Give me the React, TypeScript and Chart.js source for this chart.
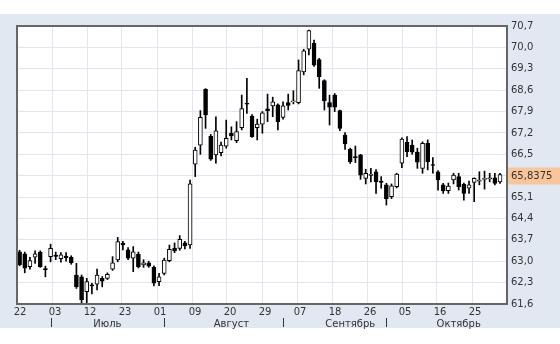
import React, { useEffect, useRef } from "react";
import { Chart, registerables } from "chart.js";

Chart.register(...registerables);

// Trading days (2018)
const juneDays = [22, 25, 26, 27, 28, 29];
const julyDays = [2, 3, 4, 5, 6, 9, 10, 11, 12, 13, 16, 17, 18, 19, 20, 23, 24, 25, 26, 27, 30, 31];
const augustDays = [1, 2, 3, 6, 7, 8, 9, 10, 13, 14, 15, 16, 17, 20, 21, 22, 23, 24, 27, 28, 29, 30, 31];
const septemberDays = [3, 4, 5, 6, 7, 10, 11, 12, 13, 14, 17, 18, 19, 20, 21, 24, 25, 26, 27, 28];
const octoberDays = [1, 2, 3, 4, 5, 8, 9, 10, 11, 12, 15, 16, 17, 18, 19, 22, 23, 24, 25, 26, 29, 30, 31];

const opens = [
  63.31, 63.24, 62.82, 63.13, 63.3, 62.75, 63.15, 63.2, 63.08, 63.17,
  63.13, 62.55, 62.49, 62.0, 62.22, 62.25, 62.44, 62.44, 62.74, 63.04,
  63.59, 63.37, 63.1, 63.23, 62.88, 62.95, 62.8, 62.33, 62.6, 63.02,
  63.43, 63.42, 63.6, 63.53, 66.18, 66.8, 68.63, 67.1, 66.48, 66.55,
  66.77, 67.19, 66.95, 67.37, 68.17, 67.75, 67.37, 67.49, 67.99, 68.08,
  68.12, 67.71, 68.19, 68.22, 68.19, 69.2, 69.94, 70.13, 69.6, 68.91,
  68.19, 68.44, 67.93, 67.13, 66.66, 66.42, 66.48, 65.71, 65.82, 65.93,
  65.62, 65.5, 65.11, 65.44, 66.21, 66.89, 66.8, 66.57, 66.04, 66.86,
  66.16, 65.93, 65.5, 65.31, 65.66, 65.77, 65.52, 65.39, 65.58, 65.63,
  65.69, 65.71, 65.73, 65.6,
];
const highs = [
  63.36, 63.3, 63.13, 63.34, 63.34, 62.84, 63.56, 63.3, 63.28, 63.28,
  63.18, 62.93, 62.55, 62.44, 62.28, 62.74, 62.5, 62.62, 63.15, 63.78,
  63.65, 63.45, 63.48, 63.3, 63.05, 63.0, 62.85, 62.6, 63.1, 63.53,
  63.6, 63.84, 63.65, 65.66, 66.73, 67.93, 68.65, 67.15, 67.73, 66.9,
  67.62, 67.4, 67.57, 68.44, 68.99, 67.8, 67.65, 67.9, 68.47, 68.37,
  68.15, 68.22, 68.47, 68.58, 69.59, 69.94, 70.57, 70.24, 69.64, 68.94,
  68.44, 68.49, 67.95, 67.21, 66.7, 66.77, 66.5, 66.01, 66.04, 66.0,
  65.77, 65.55, 65.53, 65.88, 67.04, 67.08, 66.97, 66.7, 66.91, 66.97,
  66.39, 65.97, 65.55, 65.56, 65.88, 65.88, 65.56, 65.62, 65.73, 65.93,
  65.95, 65.88, 65.88, 65.88,
];
const lows = [
  62.85, 62.62, 62.74, 62.93, 62.8, 62.49, 62.98, 63.05, 62.97, 63.0,
  62.9, 62.11, 61.64, 61.64, 61.93, 62.06, 62.16, 62.4, 62.7, 62.98,
  63.37, 63.05, 62.66, 62.78, 62.8, 62.8, 62.19, 62.2, 62.55, 62.98,
  63.28, 63.36, 63.4, 63.42, 65.77, 66.5, 67.35, 66.3, 66.21, 66.45,
  66.7, 66.97, 66.88, 67.3, 67.84, 67.05, 66.97, 67.19, 67.57, 67.73,
  67.3, 67.65, 67.95, 68.15, 68.15, 69.1, 69.75, 69.38, 68.66, 67.95,
  67.46, 67.9, 67.27, 66.66, 66.2, 66.23, 65.68, 65.53, 65.6, 65.22,
  65.39, 64.84, 65.05, 65.4, 66.06, 66.42, 66.5, 66.04, 65.88, 65.99,
  65.88, 65.33, 65.22, 65.22, 65.53, 65.33, 65.0, 65.22, 64.95, 65.5,
  65.36, 65.6, 65.5, 65.55,
];
const closes = [
  62.88, 62.77, 63.02, 63.24, 62.82, 62.74, 63.42, 63.16, 63.21, 63.12,
  62.95, 62.17, 61.73, 62.33, 62.2, 62.55, 62.35, 62.57, 62.95, 63.64,
  63.53, 63.1, 63.31, 62.82, 62.95, 62.84, 62.28, 62.49, 63.04, 63.39,
  63.34, 63.72, 63.5, 65.53, 66.64, 67.71, 67.79, 66.34, 67.27, 66.8,
  67.02, 67.1, 67.24, 68.0, 68.14, 67.08, 67.49, 67.86, 67.93, 68.22,
  67.57, 68.09, 68.1, 68.25, 69.24, 69.89, 70.55, 69.42, 69.04, 68.25,
  68.04, 68.04, 67.35, 66.84, 66.26, 66.4, 65.82, 65.88, 65.84, 65.6,
  65.58, 65.05, 65.47, 65.85, 67.0, 66.59, 66.57, 66.24, 66.86, 66.26,
  66.14, 65.66, 65.3, 65.46, 65.82, 65.44, 65.22, 65.5, 65.71, 65.64,
  65.7, 65.72, 65.55, 65.8375,
];

const yTickValues = [61.6, 62.3, 63.0, 63.7, 64.4, 65.1, 65.8, 66.5, 67.2, 67.9, 68.6, 69.3, 70.0, 70.7];
const xTickLabels = ["22", "03", "12", "23", "01", "09", "20", "29", "07", "18", "26", "05", "16", "25"];
const monthNames = ["Июль", "Август", "Сентябрь", "Октябрь"];
const monthLabelDays = [17, 20, 20, 19];
const lastValueText = "65,8375";

const monthDayLists = [juneDays, julyDays, augustDays, septemberDays, octoberDays];
const monthStartIndex: number[] = [];
{
  let acc = 0;
  monthDayLists.forEach((m) => {
    monthStartIndex.push(acc);
    acc += m.length;
  });
}

const X_MIN = -0.5;
const X_MAX = 94.35;
const FONT = { family: "'DejaVu Sans', Verdana, sans-serif", size: 10 };
const TEXT = "#333333";
const GRID = "#dfe6ef";
const PANEL = "#e2e8f1";

const decorPlugin = {
  id: "decor",
  beforeDraw(chart: any) {
    const { ctx, chartArea: a, width, height } = chart;
    ctx.save();
    ctx.fillStyle = "#ffffff";
    ctx.fillRect(0, 0, width, height);
    ctx.fillStyle = PANEL;
    ctx.fillRect(0, 14, width, 314);
    ctx.fillStyle = "#ffffff";
    ctx.fillRect(a.left, a.top, a.right - a.left, a.bottom - a.top);
    ctx.restore();
  },
  afterDraw(chart: any) {
    const { ctx, chartArea: a, width } = chart;
    const xs = chart.scales.x;
    const ys = chart.scales.y;
    ctx.save();
    // frame
    ctx.strokeStyle = "#666666";
    ctx.lineWidth = 2;
    ctx.strokeRect(a.left, a.top, a.right - a.left, a.bottom - a.top);
    // month separators and labels
    ctx.fillStyle = TEXT;
    ctx.strokeStyle = "#333333";
    ctx.lineWidth = 1;
    ctx.font = `${FONT.size}px ${FONT.family}`;
    ctx.textBaseline = "middle";
    ctx.textAlign = "center";
    for (let m = 1; m < monthDayLists.length; m++) {
      const px = Math.round(xs.getPixelForValue(monthStartIndex[m])) + 0.5;
      ctx.beginPath();
      ctx.moveTo(px, 318);
      ctx.lineTo(px, 327);
      ctx.stroke();
      const days = monthDayLists[m];
      let di = days.findIndex((d) => d >= monthLabelDays[m - 1]);
      if (di < 0) di = days.length - 1;
      const lx = xs.getPixelForValue(monthStartIndex[m] + di);
      ctx.fillText(monthNames[m - 1], lx, 324);
    }
    // last value highlight
    const lv = closes[closes.length - 1];
    const py = ys.getPixelForValue(lv);
    ctx.fillStyle = "#f9c59b";
    ctx.fillRect(a.right + 1, py - 7, width - a.right - 1, 17);
    ctx.fillStyle = TEXT;
    ctx.textAlign = "left";
    ctx.fillText(lastValueText, a.right + 4, py + 1.5);
    ctx.restore();
  },
};

function App() {
  const ref = useRef<HTMLCanvasElement | null>(null);
  useEffect(() => {
    if (!ref.current) return;
    const bodies = closes.map((c, i) => {
      const o = opens[i];
      let lo = Math.min(o, c);
      let hi = Math.max(o, c);
      if (hi - lo < 0.035) {
        const mid = (hi + lo) / 2;
        lo = mid - 0.0175;
        hi = mid + 0.0175;
      }
      return { x: i, y: [lo, hi] };
    });
    const wicks = highs.map((h, i) => ({ x: i, y: [lows[i], h] }));
    const chart = new Chart(ref.current, {
      type: "bar",
      data: {
        datasets: [
          {
            data: bodies as any,
            backgroundColor: closes.map((c, i) => (c >= opens[i] ? "#ffffff" : "#000000")),
            borderColor: "#000000",
            borderWidth: 1,
            borderSkipped: false,
            barThickness: 4,
            grouped: false,
            order: 0,
          } as any,
          {
            data: wicks as any,
            backgroundColor: "#000000",
            borderWidth: 0,
            barThickness: 1,
            grouped: false,
            order: 1,
          } as any,
        ],
      },
      options: {
        animation: false,
        responsive: false,
        layout: { padding: { left: 17, top: 26, right: 0, bottom: 0 } },
        plugins: { legend: { display: false }, tooltip: { enabled: false } },
        scales: {
          x: {
            type: "linear",
            offset: false,
            min: X_MIN,
            max: X_MAX,
            afterBuildTicks: (axis: any) => {
              axis.ticks = xTickLabels.map((_, k) => ({ value: X_MIN + (k * (X_MAX - X_MIN)) / 14 }));
            },
            afterFit: (s: any) => {
              s.height = 40;
            },
            ticks: {
              callback: (_v: any, i: number) => xTickLabels[i],
              labelOffset: 3,
              padding: 2,
              maxRotation: 0,
              autoSkip: false,
              font: FONT,
              color: TEXT,
            },
            grid: { color: GRID, drawTicks: false, offset: false },
            border: { display: false },
          },
          y: {
            position: "right",
            min: 61.6,
            max: 70.7,
            afterBuildTicks: (axis: any) => {
              axis.ticks = yTickValues.map((v) => ({ value: v }));
            },
            afterFit: (s: any) => {
              s.width = 53;
            },
            ticks: {
              callback: (v: any) => (Math.abs(v - 65.8) < 1e-6 ? "" : Number(v).toFixed(1).replace(".", ",")),
              padding: 4,
              font: FONT,
              color: TEXT,
            },
            grid: { color: GRID, drawTicks: false },
            border: { display: false },
          },
        },
      } as any,
      plugins: [decorPlugin],
    });
    return () => chart.destroy();
  }, []);
  return (
    <div style={{ position: "absolute", left: 0, top: 0, width: 560, height: 344 }}>
      <canvas ref={ref} width={560} height={344} />
    </div>
  );
}

export default App;
